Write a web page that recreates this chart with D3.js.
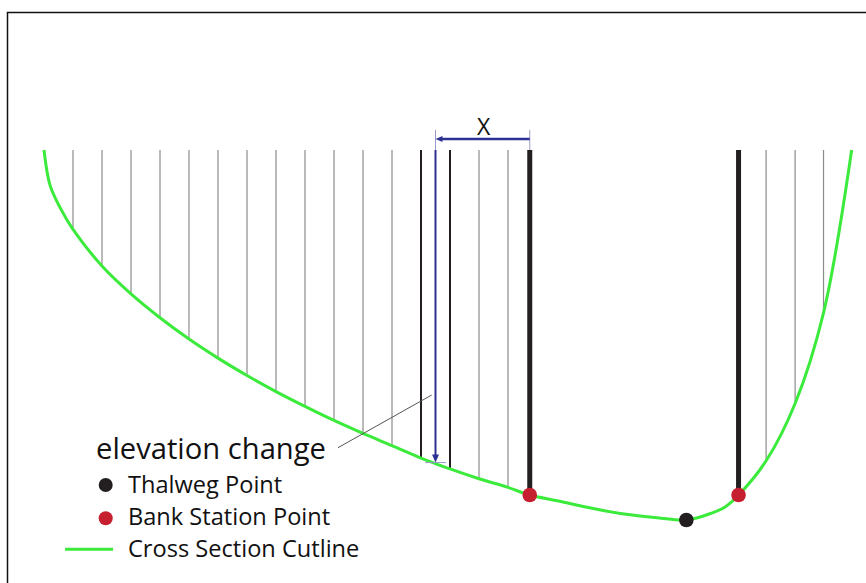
<!DOCTYPE html>
<html>
<head>
<meta charset="utf-8">
<script src="https://cdn.jsdelivr.net/npm/d3@7"></script>
<style>
  html, body { margin: 0; padding: 0; background: #fff; }
  svg { display: block; }
</style>
</head>
<body>
<svg id="chart" width="866" height="583"></svg>
<script>
// ---- Data (stations in ft, elevations in ft above thalweg) ----
const cutStations = [0, 2.07, 5.5, 10, 20, 30, 40, 50, 60, 70, 80, 90, 100, 110, 120, 130, 135, 140, 150, 160, 167.5, 177, 189, 200, 211.5, 221.5, 230, 235, 239.5, 249, 259, 268.8, 278.5];
const cutElev     = [20, 18.1, 16.9, 15.71, 13.73, 12.22, 10.93, 9.78, 8.75, 7.81, 6.94, 6.14, 5.38, 4.68, 4.02, 3.35, 3.05, 2.76, 2.23, 1.76, 1.35, 1.04, 0.63, 0.32, 0.12, 0, 0.36, 0.72, 1.35, 3.2, 6.3, 11.2, 20];
const thinStations = [10, 20, 30, 40, 50, 60, 70, 80, 90, 100, 110, 120, 150, 160, 249, 259, 268.8];
const measureStations = [130, 140];
const bankStations = [167.5, 239.5];
const thalwegStation = 221.5;
const changeStation = 135;
const topElev = 20;
const dimElev = 20.6;
const labels = { change: "elevation change", dim: "X" };
const legendItems = ["Thalweg Point", "Bank Station Point", "Cross Section Cutline"];

// ---- Scales ----
const x = d3.scaleLinear().domain([0, 278.5]).range([44, 851.65]);
const y = d3.scaleLinear().domain([0, 20]).range([520, 150]);

const elevAt = s => {
  const i = cutStations.indexOf(s);
  if (i >= 0) return cutElev[i];
  const j = d3.bisectLeft(cutStations, s);
  const t = (s - cutStations[j - 1]) / (cutStations[j] - cutStations[j - 1]);
  return cutElev[j - 1] + t * (cutElev[j] - cutElev[j - 1]);
};

const GREEN = "#3cea3c", RED = "#c61f2f", BLACK = "#231f20", BLUE = "#2e3192", GRAY = "#8c8c8c";
const FONT = "'Open Sans', 'Noto Sans', sans-serif";

const svg = d3.select("#chart");

// frame
svg.append("rect").attr("x", 7.5).attr("y", 12.5).attr("width", 900).attr("height", 620)
  .attr("fill", "none").attr("stroke", "#111").attr("stroke-width", 1.5);

// thin gridlines
svg.append("g").selectAll("line").data(thinStations).join("line")
  .attr("x1", d => x(d)).attr("x2", d => x(d))
  .attr("y1", y(topElev)).attr("y2", d => y(elevAt(d)))
  .attr("stroke", GRAY).attr("stroke-width", 1.2);

// medium black lines bounding the change
svg.append("g").selectAll("line").data(measureStations).join("line")
  .attr("x1", d => x(d)).attr("x2", d => x(d))
  .attr("y1", y(topElev)).attr("y2", d => y(elevAt(d)))
  .attr("stroke", BLACK).attr("stroke-width", 2);

// bank station thick lines
svg.append("g").selectAll("line").data(bankStations).join("line")
  .attr("x1", d => x(d)).attr("x2", d => x(d))
  .attr("y1", y(topElev)).attr("y2", d => y(elevAt(d)))
  .attr("stroke", BLACK).attr("stroke-width", 5);

// cross section cutline
const line = d3.line().x(d => x(d[0])).y(d => y(d[1])).curve(d3.curveCatmullRom.alpha(0.5));
svg.append("path").datum(cutStations.map((s, i) => [s, cutElev[i]]))
  .attr("d", line).attr("fill", "none").attr("stroke", GREEN).attr("stroke-width", 3);

// blue elevation-change arrow
const cx = x(changeStation), cy = y(elevAt(changeStation)) - 1;
svg.append("line").attr("x1", x(measureStations[0]) + 4).attr("x2", x(measureStations[1]) - 4)
  .attr("y1", cy).attr("y2", cy).attr("stroke", "#9a9ccc").attr("stroke-width", 1);
svg.append("line").attr("x1", cx).attr("x2", cx).attr("y1", y(topElev)).attr("y2", cy - 6)
  .attr("stroke", BLUE).attr("stroke-width", 2);
svg.append("path").attr("d", `M${cx - 3.5},${cy - 8} L${cx + 3.5},${cy - 8} L${cx},${cy} Z`).attr("fill", BLUE);

// X dimension
const dy = y(dimElev), bx = x(bankStations[0]);
svg.append("line").attr("x1", cx).attr("x2", cx).attr("y1", dy - 9).attr("y2", y(topElev))
  .attr("stroke", "#9a9ccc").attr("stroke-width", 1);
svg.append("line").attr("x1", bx).attr("x2", bx).attr("y1", dy - 9).attr("y2", y(topElev))
  .attr("stroke", "#9a9ccc").attr("stroke-width", 1);
svg.append("line").attr("x1", cx + 5).attr("x2", bx).attr("y1", dy).attr("y2", dy)
  .attr("stroke", BLUE).attr("stroke-width", 2.5);
svg.append("path").attr("d", `M${cx},${dy} L${cx + 7},${dy - 3} L${cx + 7},${dy + 3} Z`).attr("fill", BLUE);
svg.append("text").attr("x", (cx + bx) / 2 + 1).attr("y", dy - 3.5).attr("text-anchor", "middle")
  .attr("font-family", FONT).attr("font-size", 23).attr("fill", "#111").text(labels.dim);

// points
svg.append("g").selectAll("circle").data(bankStations).join("circle")
  .attr("cx", d => x(d)).attr("cy", d => y(elevAt(d))).attr("r", 7.3).attr("fill", RED);
svg.append("circle").attr("cx", x(thalwegStation)).attr("cy", y(elevAt(thalwegStation)))
  .attr("r", 7.3).attr("fill", BLACK);

// leader line + label
svg.append("line").attr("x1", 338).attr("y1", 447.7).attr("x2", 431.7).attr("y2", 395)
  .attr("stroke", "#555").attr("stroke-width", 1);
svg.append("text").attr("x", 96).attr("y", 459).attr("font-family", FONT).attr("font-size", 29.2)
  .attr("fill", "#111").text(labels.change);

// legend
const lg = svg.append("g");
lg.append("circle").attr("cx", 105.7).attr("cy", 485).attr("r", 7).attr("fill", BLACK);
lg.append("circle").attr("cx", 105.7).attr("cy", 518.3).attr("r", 7).attr("fill", RED);
lg.append("line").attr("x1", 65).attr("x2", 113).attr("y1", 549.3).attr("y2", 549.3)
  .attr("stroke", GREEN).attr("stroke-width", 3);
lg.selectAll("text").data(legendItems).join("text")
  .attr("x", 128).attr("y", (d, i) => 493 + i * 31.8)
  .attr("font-family", FONT).attr("font-size", 23.6).attr("fill", "#111").text(d => d);
</script>
</body>
</html>
